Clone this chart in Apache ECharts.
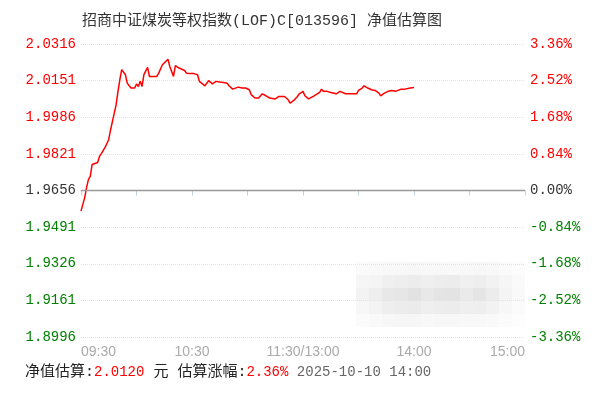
<!DOCTYPE html>
<html>
<head>
<meta charset="utf-8">
<title>净值估算图</title>
<script src="https://cdn.jsdelivr.net/npm/echarts@6/dist/echarts.min.js"></script>
<style>
  html, body { margin: 0; padding: 0; background: #fff; }
  #chart { width: 603px; height: 396px; }
</style>
</head>
<body>
<div id="chart"></div>
<script>
// Fund and estimate info
const fundTitle = '招商中证煤炭等权指数(LOF)C[013596] 净值估算图';
const prevNav = 1.9656;          // previous close NAV (0% line)
const estNav = '2.0120';
const estChange = '2.36%';
const estTime = '2025-10-10 14:00';

// Percent axis in basis points: ±3.36% in 0.84% steps
const pctStepBp = 84;
const pctLevels = 4;

// Trading-minute axis (09:30–11:30, 13:00–15:00 = 240 minutes)
const xLabelMinutes = [0, 60, 120, 180, 240];
const xLabelTexts = ['09:30', '10:30', '11:30/13:00', '14:00', '15:00'];

// Intraday estimate: trading minute since open, estimated NAV
const tradeMinutes = [
  0, 2, 3, 4, 5, 6, 7, 9, 10, 11,
  13, 15, 16, 17, 18, 19, 20, 21, 22, 23,
  24, 25, 27, 28, 29, 30, 31, 32, 33, 34,
  36, 37, 38, 41, 42, 44, 47, 48, 50, 51,
  53, 54, 56, 57, 59, 61, 63, 64, 65, 67,
  68, 69, 71, 72, 73, 75, 77, 79, 80, 82,
  83, 85, 87, 89, 91, 92, 94, 96, 97, 98,
  100, 102, 103, 105, 107, 108, 110, 112, 113, 115,
  117, 118, 119, 120, 121, 123, 124, 126, 127, 129,
  130, 131, 133, 135, 136, 138, 140, 141, 143, 144,
  146, 147, 149, 150, 152, 153, 155, 157, 159, 161,
  162, 164, 166, 167, 168, 170, 171, 173, 175, 176,
  178, 179, 180
];
const navValues = [
  1.9563, 1.9624, 1.9669, 1.9705, 1.9720, 1.9773, 1.9782, 1.9782, 1.9810, 1.9822,
  1.9850, 1.9886, 1.9930, 1.9968, 1.9976, 2.0043, 2.0103, 2.0156, 2.0201, 2.0208,
  2.0178, 2.0140, 2.0118, 2.0125, 2.0118, 2.0136, 2.0125, 2.0148, 2.0125, 2.0178,
  2.0211, 2.0170, 2.0175, 2.0170, 2.0185, 2.0223, 2.0248, 2.0215, 2.0170, 2.0219,
  2.0208, 2.0204, 2.0197, 2.0185, 2.0183, 2.0183, 2.0178, 2.0148, 2.0140, 2.0128,
  2.0140, 2.0151, 2.0137, 2.0128, 2.0148, 2.0145, 2.0143, 2.0140, 2.0128, 2.0113,
  2.0118, 2.0122, 2.0118, 2.0118, 2.0110, 2.0088, 2.0073, 2.0073, 2.0080, 2.0092,
  2.0083, 2.0073, 2.0069, 2.0069, 2.0080, 2.0083, 2.0080, 2.0065, 2.0050, 2.0062,
  2.0080, 2.0092, 2.0098, 2.0103, 2.0083, 2.0069, 2.0073, 2.0083, 2.0088, 2.0098,
  2.0113, 2.0103, 2.0103, 2.0098, 2.0099, 2.0092, 2.0103, 2.0095, 2.0092, 2.0098,
  2.0092, 2.0095, 2.0092, 2.0107, 2.0118, 2.0128, 2.0118, 2.0110, 2.0107, 2.0095,
  2.0083, 2.0095, 2.0103, 2.0098, 2.0107, 2.0103, 2.0110, 2.0113, 2.0113, 2.0110,
  2.0118, 2.0112, 2.0120
];

// Gray levels of the pixelated watermark patch
const patchShades = [
  [250, 249, 248, 248, 247, 248, 248, 249, 248, 247, 248, 250, 252],
  [246, 244, 240, 238, 236, 239, 237, 236, 240, 238, 242, 246, 250],
  [243, 238, 232, 230, 226, 232, 228, 227, 234, 229, 236, 244, 249],
  [247, 243, 238, 236, 235, 239, 237, 236, 239, 238, 242, 247, 251],
  [251, 249, 247, 246, 246, 248, 247, 247, 248, 248, 249, 251, 253]
];

const RED = '#ff0000';
const GREEN = '#008000';
const MONO = "'Liberation Mono', 'DejaVu Sans Mono', monospace";
const CJK_MONO = "'Liberation Mono', 'Noto Sans CJK SC', monospace";

const seriesData = tradeMinutes.map((m, i) => [m, (navValues[i] / prevNav - 1) * 10000]);
const bpMax = pctStepBp * pctLevels;

function signColor(v, zeroColor) {
  v = Number(v);
  if (Math.abs(v) < 1e-9) return zeroColor;
  return v > 0 ? RED : GREEN;
}

const patchCell = 13;
const patchRects = [];
patchShades.forEach((row, r) => {
  row.forEach((g, c) => {
    patchRects.push({
      type: 'rect',
      shape: { x: 356 + c * patchCell, y: 262 + r * patchCell, width: patchCell, height: patchCell },
      style: { fill: 'rgb(' + g + ',' + g + ',' + g + ')' },
      silent: true
    });
  });
});

const chart = echarts.init(document.getElementById('chart'), null, { renderer: 'canvas' });
chart.setOption({
  animation: false,
  backgroundColor: '#fff',
  title: {
    text: fundTitle,
    left: 77,
    top: 9,
    textStyle: { fontFamily: CJK_MONO, fontSize: 15, fontWeight: 'normal', color: '#333' }
  },
  grid: { left: 81, right: 78, top: 44, bottom: 59, containLabel: false },
  xAxis: {
    type: 'value',
    min: 0,
    max: 240,
    interval: 30,
    axisLine: { show: true, lineStyle: { color: '#c2d0e2', width: 1 } },
    axisTick: { show: true, length: 5, lineStyle: { color: '#c2d0e2' } },
    splitLine: { show: false },
    axisLabel: {
      margin: 8,
      color: '#aaa',
      fontSize: 14,
      fontFamily: "'Liberation Sans', Arial, sans-serif",
      alignMinLabel: 'left',
      alignMaxLabel: 'right',
      showMinLabel: true,
      showMaxLabel: true,
      formatter: v => {
        const k = xLabelMinutes.indexOf(Math.round(v));
        return k >= 0 ? xLabelTexts[k] : '';
      }
    }
  },
  yAxis: [
    {
      type: 'value',
      position: 'left',
      min: -bpMax,
      max: bpMax,
      interval: pctStepBp,
      axisLine: { show: false },
      axisTick: { show: false },
      splitLine: { show: true, lineStyle: { color: '#e4e4e4', type: 'dotted', width: 1 } },
      axisLabel: {
        margin: 5,
        fontSize: 14,
        fontFamily: MONO,
        formatter: v => (prevNav * (1 + v / 10000)).toFixed(4),
        color: v => signColor(v, '#333')
      }
    },
    {
      type: 'value',
      position: 'right',
      min: -bpMax,
      max: bpMax,
      interval: pctStepBp,
      axisLine: { show: false },
      axisTick: { show: false },
      splitLine: { show: false },
      axisLabel: {
        margin: 5,
        fontSize: 14,
        fontFamily: MONO,
        formatter: v => (v / 100).toFixed(2) + '%',
        color: v => signColor(v, '#333')
      }
    }
  ],
  series: [{
    type: 'line',
    data: seriesData,
    showSymbol: false,
    symbol: 'none',
    lineStyle: { color: RED, width: 1.5 },
    markLine: {
      silent: true,
      symbol: 'none',
      label: { show: false },
      lineStyle: { color: '#999', type: 'solid', width: 1.3 },
      data: [{ yAxis: 0 }]
    }
  }],
  graphic: [
    {
      type: 'group',
      z: 100,
      children: patchRects
    },
    {
      type: 'text',
      left: 25,
      top: 365,
      style: {
        text: '{k|净值估算:}{v|' + estNav + '}{k| 元 估算涨幅:}{v|' + estChange + '}{t| ' + estTime + '}',
        rich: {
          k: { fontFamily: CJK_MONO, fontSize: 15, fill: '#222' },
          v: { fontFamily: MONO, fontSize: 14, fill: RED },
          t: { fontFamily: MONO, fontSize: 14, fill: '#666' }
        }
      }
    }
  ]
});
</script>
</body>
</html>
